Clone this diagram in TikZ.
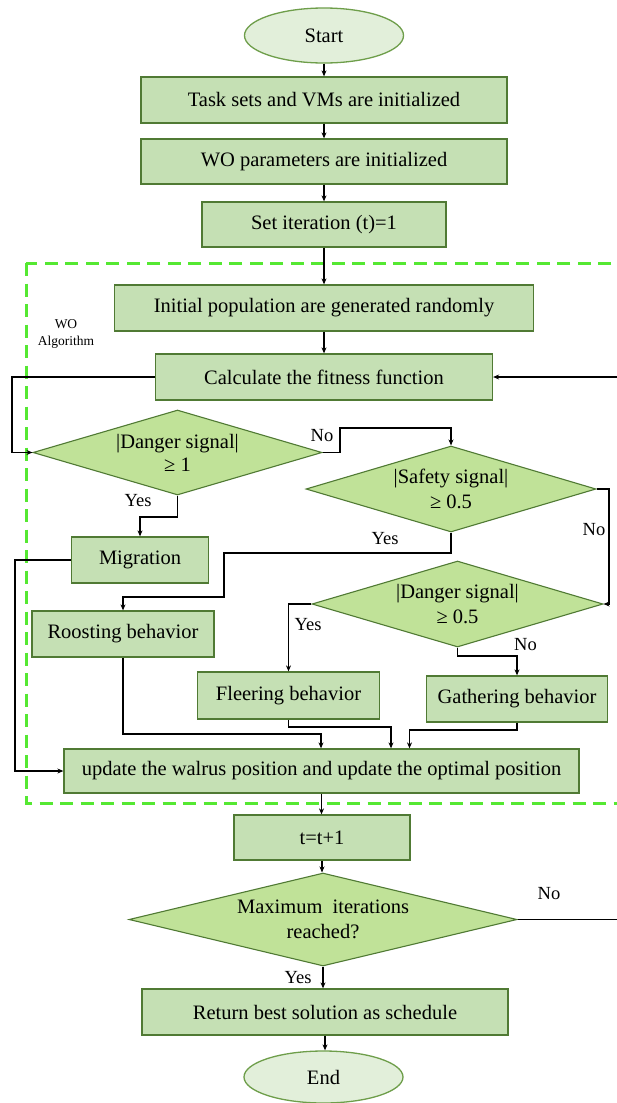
\documentclass[tikz,border=0pt]{standalone}
\usepackage{fontspec}
\setmainfont{Liberation Serif}
\usetikzlibrary{shapes.geometric,arrows.meta}
\definecolor{boxfill}{RGB}{197,224,180}
\definecolor{boxline}{RGB}{80,122,52}
\definecolor{diafill}{RGB}{192,226,152}
\definecolor{ellfill}{RGB}{226,239,218}
\definecolor{ellline}{RGB}{110,158,74}
\definecolor{dashgreen}{RGB}{85,232,50}
\tikzset{
  proc/.style={draw=boxline, line width=1.3pt, fill=boxfill, inner sep=0pt, align=center,
    font=\fontsize{20.5}{24}\selectfont},
  dec/.style={diamond, draw=boxline, line width=1.1pt, fill=diafill, inner sep=0pt, align=center,
    font=\fontsize{20.5}{25}\selectfont},
  term/.style={ellipse, draw=ellline, line width=1.3pt, fill=ellfill, inner sep=0pt,
    font=\fontsize{20.5}{24}\selectfont},
  arr/.style={draw=black, line width=1.1pt, -{Stealth[length=6pt,width=5pt]}},
  lbl/.style={font=\fontsize{18.5}{22}\selectfont, inner sep=0pt},
}
\begin{document}
\begin{tikzpicture}[x=1pt,y=-1pt]
\clip (0,0) rectangle (617,1103);
\fill[white] (0,0) rectangle (617,1103);

% dashed region
\draw[dashgreen, line width=3pt, dash pattern=on 13pt off 7.5pt] (26,263) rectangle (660,803);
\node[align=center, font=\fontsize{13.5}{17.5}\selectfont, inner sep=0pt] (woalg) at (66,334) {WO\\Algorithm};

% nodes
\node[term, minimum width=159pt, minimum height=55pt] (start) at (324,35.5) {Start};
\node[proc, minimum width=366pt, minimum height=46pt] (task) at (324,100) {Task sets and VMs are initialized};
\node[proc, minimum width=366pt, minimum height=45pt] (wo) at (324,161.5) {WO parameters are initialized};
\node[proc, minimum width=244pt, minimum height=45pt] (set) at (324,224.5) {Set iteration (t)=1};
\node[proc, minimum width=419pt, minimum height=46pt] (init) at (324,308) {Initial population are generated randomly};
\node[proc, minimum width=337pt, minimum height=46pt] (calc) at (324,377) {Calculate the fitness function};

\node[dec, minimum width=289pt, minimum height=85pt, aspect=3.4] (d1) at (177.5,452.5) {|Danger signal|\\[-2pt]≥ 1};
\node[dec, minimum width=290pt, minimum height=86pt, aspect=3.4] (sf) at (451,489) {|Safety signal|\\≥ 0.5};
\node[dec, minimum width=291pt, minimum height=86pt, aspect=3.4] (d2) at (457.5,604) {|Danger signal|\\≥ 0.5};

\node[proc, minimum width=137pt, minimum height=46pt] (mig) at (140,560) {Migration};
\node[proc, minimum width=182pt, minimum height=46pt] (roost) at (123,634) {Roosting behavior};
\node[proc, minimum width=182pt, minimum height=47pt] (fle) at (288.5,695.5) {Fleering behavior};
\node[proc, minimum width=181pt, minimum height=46pt] (gat) at (517,699) {Gathering behavior};
\node[proc, minimum width=515pt, minimum height=44pt] (upd) at (321.5,771) {update the walrus position and update the optimal position};

\node[proc, minimum width=176pt, minimum height=45pt] (tt) at (322,837.5) {t=t+1};
\node[dec, minimum width=388pt, minimum height=93pt, aspect=4.2] (mx) at (323,919.5) {Maximum\ \ iterations\\reached?};
\node[proc, minimum width=366pt, minimum height=46pt] (ret) at (325,1012) {Return best solution as schedule};
\node[term, minimum width=159pt, minimum height=52pt] (end) at (323.5,1077) {End};

% connectors
\draw[arr] (start.south) -- (start.south |- task.north);
\draw[arr] (task.south) -- (task.south |- wo.north);
\draw[arr] (wo.south) -- (wo.south |- set.north);
\draw[arr] (set.south) -- (set.south |- init.north);
\draw[arr] (init.south) -- (init.south |- calc.north);
\draw[arr] (calc.west) -- (12,377) |- (d1.west);
\draw[arr] (d1.east) -- (340,452.5) -- (340,428) -| (sf.north);
\draw[arr] (d1.south) -- (177.5,517) -| (mig.north);
\draw[arr] (mig.west) -- (15,560) |- (upd.west);
\draw[arr] (sf.south) -- (451,553) -- (224,553) -- (224,597) -| (roost.north);
\draw[arr] (sf.east) -- (609,489) |- (d2.east);
\draw[arr] (d2.west) -| (fle.north);
\draw[arr] (d2.south) -- (457.5,656) -| (gat.north);
\draw[arr] (roost.south) |- (321,734) -- (321,0 |- upd.north);
\draw[arr] (fle.south) |- (391,727) -- (391,0 |- upd.north);
\draw[arr] (gat.south) |- (409.5,730) -- (409.5,0 |- upd.north);
\draw[arr] (upd.south) -- (upd.south |- tt.north);
\draw[arr] (tt.south) -- (tt.south |- mx.north);
\draw[arr] (mx.south) -- (mx.south |- ret.north);
\draw[arr] (ret.south) -- (ret.south |- end.north);
\draw[arr] (mx.east) -- (630,919.5) |- (calc.east);

% labels
\node[lbl] (l1) at (322,436) {No};
\node[lbl] (l2) at (138,501) {Yes};
\node[lbl] (l3) at (385,539) {Yes};
\node[lbl] (l4) at (594,530) {No};
\node[lbl] (l5) at (308,625) {Yes};
\node[lbl] (l6) at (525.5,645) {No};
\node[lbl] (l7) at (549,894) {No};
\node[lbl] (l8) at (298,978) {Yes};
\end{tikzpicture}
\end{document}
